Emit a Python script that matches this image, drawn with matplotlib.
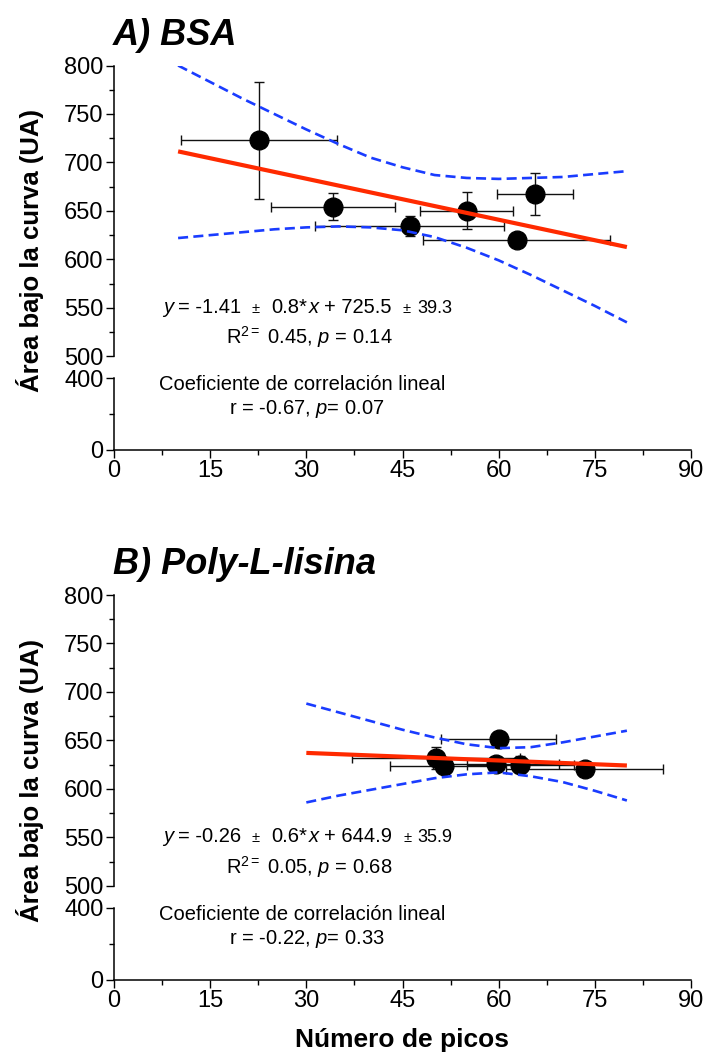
import numpy as np
import matplotlib
matplotlib.use("Agg")
import matplotlib.pyplot as plt
from matplotlib.ticker import MultipleLocator, FixedLocator

plt.rcParams['font.family'] = ['Liberation Sans', 'DejaVu Sans']
plt.rcParams['mathtext.fontset'] = 'custom'
plt.rcParams['mathtext.rm'] = 'Liberation Sans'
plt.rcParams['mathtext.it'] = 'Liberation Sans:italic'

# ---- A) BSA ----
bsa_x = [22.6, 34.2, 46.1, 55.0, 65.7, 62.8]
bsa_y = [722.7, 654.3, 634.4, 650.2, 667.4, 620.3]
bsa_xerr = [12.2, 9.7, 14.8, 7.3, 5.9, 14.6]
bsa_yerr = [60.5, 14.0, 10.0, 19.0, 21.5, 3.0]
bsa_slope, bsa_icept = -1.41, 725.5
bsa_fit_range = [10, 80]
bsa_band_x = [10, 15, 20, 25, 30, 35, 40, 45, 50, 55, 60, 65, 70, 75, 80]
bsa_band_hi = [800, 783, 766, 750, 734, 719, 705, 695, 687, 684, 683, 684, 685, 688, 691]
bsa_band_lo = [622, 625, 628, 631, 633, 634, 633, 630, 623, 612, 599, 584, 568, 552, 535]

# ---- B) Poly-L-lisina ----
pll_x = [50.2, 51.4, 60.0, 59.6, 63.4, 73.4]
pll_y = [632.0, 624.0, 651.0, 626.0, 625.0, 621.0]
pll_xerr = [13.1, 8.4, 9.0, 9.8, 8.4, 12.3]
pll_yerr = [11.0, 8.0, 8.0, 6.0, 9.0, 6.0]
pll_slope, pll_icept = -0.26, 644.9
pll_fit_range = [30, 80]
pll_band_x = [30, 35, 40, 45, 50, 55, 60, 65, 70, 75, 80]
pll_band_hi = [688, 679, 670, 661, 653, 646, 642, 643, 648, 654, 660]
pll_band_lo = [586, 593, 599, 605, 611, 615, 617, 613, 607, 598, 588]

xticks = [0, 15, 30, 45, 60, 75, 90]

RED = '#ff2a00'
BLUE = '#1a3cff'

W, H = 710, 1057
fig = plt.figure(figsize=(W / 100, H / 100), dpi=100)
renderer = fig.canvas.get_renderer()


def rect(top, bottom, left=114, right=691):
    return [left / W, 1 - bottom / H, (right - left) / W, (bottom - top) / H]


def ftext(x, y, s, **kw):
    return fig.text(x / W, 1 - y / H, s, **kw)


def chain(x, base, parts):
    # parts: (text, fontsize, gap in px after it)
    for s, fs, gap in parts:
        t = ftext(x, base, s, fontsize=fs, ha='left', va='baseline')
        x += t.get_window_extent(renderer=renderer).width + gap


def panel(top, title, xs, ys, xe, ye, slope, icept, frange, bx, bhi, blo,
          eq_vals, r2_txt, r_txt):
    up = fig.add_axes(rect(top, top + 290.8))
    lo = fig.add_axes(rect(top + 312.8, top + 384.5))
    for ax in (up, lo):
        ax.patch.set_alpha(0)
        ax.set_xlim(0, 90)
        for s in ('top', 'right'):
            ax.spines[s].set_visible(False)
        ax.spines['left'].set_linewidth(1.1)
        ax.spines['bottom'].set_linewidth(1.1)
        ax.tick_params(which='major', direction='out', length=6, width=1,
                       labelsize=17, pad=1.5)
        ax.tick_params(which='minor', direction='out', length=3.5, width=1)
    up.spines['bottom'].set_visible(False)
    up.tick_params(axis='x', which='both', bottom=False, labelbottom=False)
    up.set_ylim(500, 800)
    up.yaxis.set_major_locator(MultipleLocator(50))
    up.yaxis.set_minor_locator(MultipleLocator(25))
    lo.set_ylim(0, 400)
    lo.yaxis.set_major_locator(FixedLocator([0, 400]))
    lo.yaxis.set_minor_locator(FixedLocator([200]))
    lo.set_xticks(xticks)
    lo.xaxis.set_minor_locator(MultipleLocator(7.5))

    up.errorbar(xs, ys, xerr=xe, yerr=ye, fmt='none', ecolor='#111111',
                elinewidth=1, capsize=3.5, capthick=1, zorder=2)
    up.plot(xs, ys, 'o', color='black', markersize=13.5, zorder=3)
    fx = np.array(frange, dtype=float)
    up.plot(fx, slope * fx + icept, color=RED, lw=3.0, zorder=4,
            solid_capstyle='butt')
    for band in (bhi, blo):
        up.plot(bx, band, color=BLUE, lw=1.9, ls=(0, (3.8, 2.0)), zorder=5)

    ftext(113, top - 20.5, title, fontsize=26, fontweight='bold',
          fontstyle='italic', ha='left', va='baseline')
    ftext(30, top + 185.5, 'Área bajo la curva (UA)', fontsize=18.5,
          fontweight='bold', rotation=90, ha='center', va='center')

    # equation line, pieces of different size
    s_a, s_b, c_a, c_b = eq_vals
    chain(161.5, top + 247.5,
          [('$y$', 14.5, 2), ('= ' + s_a, 14.5, 11), ('±', 10.5, 11),
           (s_b + '*', 14.5, 1), ('$x$', 14.5, 3), ('+ ' + c_a, 14.5, 11),
           ('±', 10.5, 6), (c_b, 13, 0)])
    ftext(225.5, top + 278.5, r2_txt, fontsize=14.5, ha='left', va='baseline')
    ftext(159.4, top + 325, 'Coeficiente de correlación lineal', fontsize=14.5,
          ha='left', va='baseline')
    ftext(228.8, top + 349, r_txt, fontsize=14.5, ha='left', va='baseline')


panel(65.5, 'A) BSA', bsa_x, bsa_y, bsa_xerr, bsa_yerr, bsa_slope, bsa_icept,
      bsa_fit_range, bsa_band_x, bsa_band_hi, bsa_band_lo,
      ('-1.41', '0.8', '725.5', '39.3'),
      r'R$^{2=}$ 0.45, $p$ = 0.14', r'r = -0.67, $p$= 0.07')
panel(595.0, 'B) Poly-L-lisina', pll_x, pll_y, pll_xerr, pll_yerr, pll_slope,
      pll_icept, pll_fit_range, pll_band_x, pll_band_hi, pll_band_lo,
      ('-0.26', '0.6', '644.9', '35.9'),
      r'R$^{2=}$ 0.05, $p$ = 0.68', r'r = -0.22, $p$= 0.33')

ftext(402, 1040, 'Número de picos', fontsize=19, fontweight='bold',
      ha='center', va='center')

fig.savefig('out.png', dpi=100)
